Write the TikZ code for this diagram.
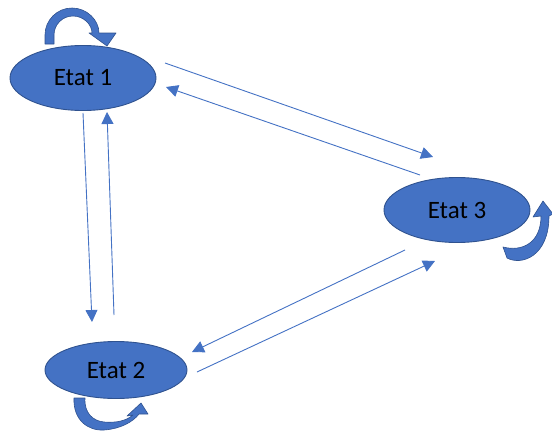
\documentclass[tikz,border=0pt]{standalone}
\usepackage{fontspec}
\setmainfont{Carlito}
\usetikzlibrary{shapes.geometric,arrows.meta,calc}
\definecolor{ofill}{HTML}{4472C4}
\definecolor{oline}{HTML}{2F528F}
\tikzset{
  state/.style={ellipse, fill=ofill, draw=oline, line width=0.9pt, minimum width=146pt, minimum height=65pt, inner sep=0pt, font=\fontsize{25}{29}\selectfont, text=black},
  link/.style={draw=ofill, line width=0.9pt, -{Triangle[length=12pt,width=12pt]}},
  loopshape/.style={fill=ofill, draw=oline, line width=0.6pt, line join=round}
}
\begin{document}
\begin{tikzpicture}[x=1pt,y=-1pt]
\useasboundingbox (0,0) rectangle (552,434);
% self loops
\path[loopshape] (45,44) -- (45,35) .. controls (45,20.1) and (57.1,8) .. (72,8) .. controls (86.9,8) and (99,20.1) .. (99,33) -- (116,33) -- (107,46) -- (89,33) -- (92,33) .. controls (92,24.5) and (83.5,16) .. (73,16) .. controls (62.5,16) and (54,24.5) .. (54,35) -- (54,44) -- cycle;
\path[loopshape] (507,258) .. controls (522,266) and (549,256) .. (549,216) -- (553,214) -- (543,201) -- (533,217) -- (541,216) .. controls (541,243) and (522,252) .. (503,247) -- cycle;
\path[loopshape] (74,398) .. controls (73,420) and (88,431) .. (104,430) .. controls (120,429) and (133,422) .. (139,414) -- (148,414) -- (141,403) -- (127,416) -- (133,415) .. controls (126,421) and (116,423) .. (104,422) .. controls (93,421) and (84,413) .. (85,398) -- cycle;
% states
\node[state] (e1) at (83,78) {Etat 1};
\node[state, minimum height=57pt, minimum width=142pt] (e2) at (116,370) {Etat 2};
\node[state] (e3) at (457,210) {Etat 3};
% connectors
\draw[link] ($(e1.center)+(82,-15)$) -- ($(e3.center)+(-24,-53)$);
\draw[link] ($(e3.center)+(-37,-35)$) -- ($(e1.center)+(83,9)$);
\draw[link] ($(e1.center)+(0,35)$) -- ($(e2.center)+(-24,-48)$);
\draw[link] ($(e2.center)+(-2,-55)$) -- ($(e1.center)+(24,34)$);
\draw[link] ($(e3.center)+(-52,40)$) -- ($(e2.center)+(76,-18)$);
\draw[link] ($(e2.center)+(81,2)$) -- ($(e3.center)+(-22,51)$);
\end{tikzpicture}
\end{document}
